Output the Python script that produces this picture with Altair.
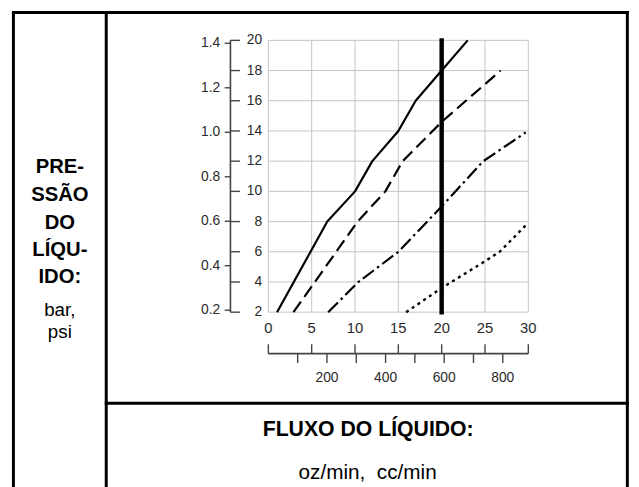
import altair as alt
import pandas as pd

# ---------------- data ----------------
oz_ticks = [0, 5, 10, 15, 20, 25, 30]
psi_ticks = [2, 4, 6, 8, 10, 12, 14, 16, 18, 20]
bar_ticks = [0.2, 0.4, 0.6, 0.8, 1.0, 1.2, 1.4]
cc_minor = [100, 200, 300, 400, 500, 600, 700, 800]
cc_labels = [200, 400, 600, 800]

solid_oz = [1.0, 6.8, 10.0, 12.0, 15.0, 17.0, 20.0, 23.0]
solid_psi = [2, 8, 10, 12, 14, 16, 18, 20]
dashed_oz = [2.9, 10.3, 13.5, 15.5, 20.0, 26.8]
dashed_psi = [2, 8, 10, 12, 14.6, 18]
dashdot_oz = [6.9, 10.4, 15.0, 20.0, 24.8, 29.7]
dashdot_psi = [2, 4, 6, 9, 12, 13.9]
dotted_oz = [15.9, 20.0, 24.8, 26.7, 29.7]
dotted_psi = [2, 3.6, 5.3, 6.0, 7.75]
ref_oz = [20]

OZ_MIN, OZ_MAX = 0, 30
PSI_MIN, PSI_MAX = 2, 20
CC_PER_OZ = 29.5735

# ---------------- geometry (chart pixels) ----------------
W, H = 631, 479
OZ0_PX, OZ30_PX = 263.7, 527.0
PSI2_PX, PSI20_PX = 305.0, 29.7
BAR02_PX, BAR14_PX = 303.0, 32.7

ppo = (OZ30_PX - OZ0_PX) / 30.0
x_dom = [-OZ0_PX / ppo, (W - OZ0_PX) / ppo]
ppp = (PSI2_PX - PSI20_PX) / 18.0
y_dom = [2 - (H - PSI2_PX) / ppp, 20 + PSI20_PX / ppp]
ppb = (BAR02_PX - BAR14_PX) / 1.2
b_dom = [0.2 - (H - BAR02_PX) / ppb, 1.4 + BAR14_PX / ppb]
cc_dom = [x_dom[0] * CC_PER_OZ, x_dom[1] * CC_PER_OZ]

xs = alt.Scale(domain=x_dom, nice=False, zero=False)
ys = alt.Scale(domain=y_dom, nice=False, zero=False)
bs = alt.Scale(domain=b_dom, nice=False, zero=False)
ccs = alt.Scale(domain=cc_dom, nice=False, zero=False)

FONT = "Liberation Sans"
GRID = "#c4c4c4"
AX = "#444444"
LAB = "#2a2a2a"


def X(f):
    return alt.X(f, type="quantitative", scale=xs, axis=None)


def Y(f):
    return alt.Y(f, type="quantitative", scale=ys, axis=None)


one = pd.DataFrame({"k": [0]})

# ---------------- grid ----------------
vgrid = alt.Chart(pd.DataFrame({"oz": oz_ticks, "lo": PSI_MIN, "hi": PSI_MAX})).mark_rule(
    color=GRID, strokeWidth=1).encode(x=X("oz"), y=Y("lo"), y2="hi")
hgrid = alt.Chart(pd.DataFrame({"psi": psi_ticks, "lo": OZ_MIN, "hi": OZ_MAX})).mark_rule(
    color=GRID, strokeWidth=1).encode(y=Y("psi"), x=X("lo"), x2="hi")


def curve(oz, psi, dash=None, width=2.2):
    kw = dict(color="black", strokeWidth=width, strokeCap="butt", strokeJoin="round")
    if dash:
        kw["strokeDash"] = dash
    return alt.Chart(pd.DataFrame({"oz": oz, "psi": psi, "i": range(len(oz))})).mark_line(**kw).encode(
        x=X("oz"), y=Y("psi"), order="i:Q")


solid = curve(solid_oz, solid_psi)
dashed = curve(dashed_oz, dashed_psi, [13, 6])
dashdot = curve(dashdot_oz, dashdot_psi, [14, 4, 2.5, 4])
dotted = curve(dotted_oz, dotted_psi, [3, 4], 2.4)

ref = alt.Chart(pd.DataFrame({"oz": ref_oz, "lo": PSI_MIN, "hi": PSI_MAX})).mark_rule(
    color="black", strokeWidth=4.5, strokeCap="square").encode(x=X("oz"), y=Y("lo"), y2="hi")

# ---------------- left axes (bar / psi) ----------------
LAX = 225.3
left_line = alt.Chart(pd.DataFrame({"lo": [PSI_MIN], "hi": [PSI_MAX]})).mark_rule(
    color=AX, strokeWidth=1.6).encode(x=alt.value(LAX), y=Y("lo"), y2="hi")
psi_tk = alt.Chart(pd.DataFrame({"psi": psi_ticks})).mark_rule(color=AX, strokeWidth=1.4).encode(
    y=Y("psi"), x=alt.value(LAX), x2=alt.value(235.0))
psi_lb = alt.Chart(pd.DataFrame({"psi": psi_ticks})).mark_text(
    align="right", baseline="middle", font=FONT, fontSize=14, color=LAB).encode(
    y=Y("psi"), x=alt.value(257.5), text=alt.Text("psi:Q", format="d"))
bar_tk = alt.Chart(pd.DataFrame({"bar": bar_ticks})).mark_rule(color=AX, strokeWidth=1.4).encode(
    y=alt.Y("bar:Q", scale=bs, axis=None), x=alt.value(219.5), x2=alt.value(LAX))
bar_lb = alt.Chart(pd.DataFrame({"bar": bar_ticks})).mark_text(
    align="right", baseline="middle", font=FONT, fontSize=14, color=LAB).encode(
    y=alt.Y("bar:Q", scale=bs, axis=None), x=alt.value(215.0), text=alt.Text("bar:Q", format=".1f"))

# ---------------- bottom axes (oz / cc) ----------------
oz_lb = alt.Chart(pd.DataFrame({"oz": oz_ticks})).mark_text(
    align="center", baseline="middle", font=FONT, fontSize=15, color=LAB).encode(
    x=X("oz"), y=alt.value(321.5), text=alt.Text("oz:Q", format="d"))
BAX = 347.0
bot_line = alt.Chart(pd.DataFrame({"lo": [OZ_MIN], "hi": [OZ_MAX]})).mark_rule(
    color=AX, strokeWidth=1.6).encode(y=alt.value(BAX), x=X("lo"), x2="hi")
oz_tk = alt.Chart(pd.DataFrame({"oz": oz_ticks})).mark_rule(color=AX, strokeWidth=1.4).encode(
    x=X("oz"), y=alt.value(337.5), y2=alt.value(BAX))
cc_tk = alt.Chart(pd.DataFrame({"cc": cc_minor})).mark_rule(color=AX, strokeWidth=1.4).encode(
    x=alt.X("cc:Q", scale=ccs, axis=None), y=alt.value(BAX), y2=alt.value(356.5))
cc_lb = alt.Chart(pd.DataFrame({"cc": cc_labels})).mark_text(
    align="center", baseline="middle", font=FONT, fontSize=14, color=LAB).encode(
    x=alt.X("cc:Q", scale=ccs, axis=None), y=alt.value(372.0), text=alt.Text("cc:Q", format="d"))

# ---------------- frame ----------------
FL, FD, FR, FT, FH = 5.5, 99.5, 627.3, 1.5, 397.3
fw = dict(color="black", strokeWidth=3, strokeCap="square")
frame = [
    alt.Chart(one).mark_rule(**fw).encode(x=alt.value(FL), y=alt.value(FT), y2=alt.value(H + 5)),
    alt.Chart(one).mark_rule(**fw).encode(x=alt.value(FD), y=alt.value(FT), y2=alt.value(H + 5)),
    alt.Chart(one).mark_rule(**fw).encode(x=alt.value(FR), y=alt.value(FT), y2=alt.value(H + 5)),
    alt.Chart(one).mark_rule(**fw).encode(y=alt.value(FT), x=alt.value(FL), x2=alt.value(FR)),
    alt.Chart(one).mark_rule(**fw).encode(y=alt.value(FH), x=alt.value(FD), x2=alt.value(FR)),
]

# ---------------- texts ----------------
def txt(s, x, y, size, bold=False, align="center"):
    return alt.Chart(one).mark_text(
        text=s, align=align, baseline="alphabetic", font=FONT, fontSize=size,
        fontWeight="bold" if bold else "normal", color="black").encode(x=alt.value(x), y=alt.value(y))


left_words = ["PRE-", "SSÃO", "DO", "LÍQU-", "IDO:"]
left_y = [164.5, 192.5, 220.3, 248.0, 275.5]
texts = [txt(w, 52.5, yy, 20.5, True) for w, yy in zip(left_words, left_y)]
texts += [txt("bar,", 52.5, 308.7, 19), txt("psi", 52.5, 331.5, 19)]
texts += [txt("FLUXO DO LÍQUIDO:", 364.8, 430.3, 21.5, True),
          txt("oz/min,\u00a0 cc/min", 364.2, 473.7, 21)]

chart = alt.layer(
    vgrid, hgrid, solid, dashed, dashdot, dotted, ref,
    left_line, psi_tk, psi_lb, bar_tk, bar_lb,
    oz_lb, bot_line, oz_tk, cc_tk, cc_lb,
    *frame, *texts,
).resolve_scale(x="independent", y="independent").properties(
    width=W, height=H, padding=0, autosize=alt.AutoSizeParams(type="none"),
    background="white",
).configure_view(stroke=None)

chart.save("out.html", embed_options={"renderer": "svg", "actions": False})
